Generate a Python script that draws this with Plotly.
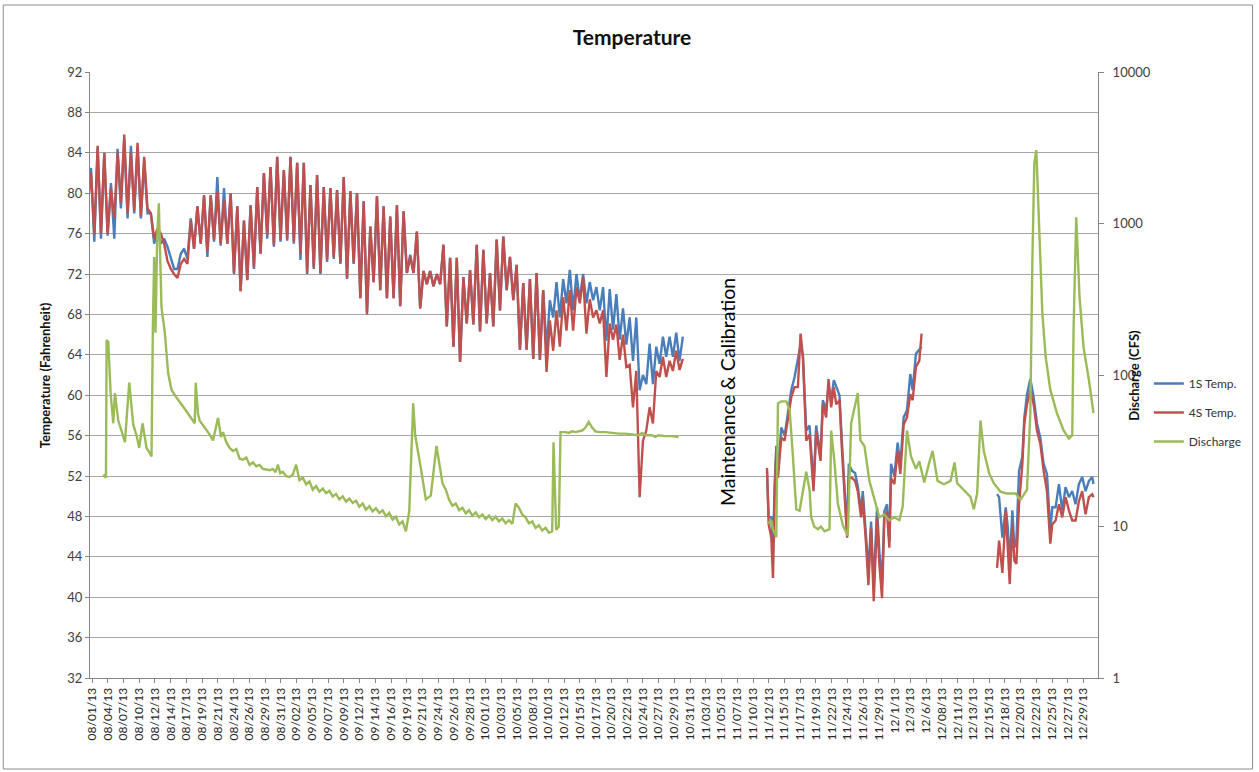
import plotly.graph_objects as go

# ---------------- DATA ----------------
# x-axis category labels (as printed in the original chart, evenly spaced)
tick_labels = ["08/01/13","08/04/13","08/07/13","08/10/13","08/12/13","08/14/13","08/17/13","08/19/13",
               "08/21/13","08/24/13","08/26/13","08/29/13","08/31/13","09/02/13","09/05/13","09/07/13",
               "09/09/13","09/12/13","09/14/13","09/16/13","09/19/13","09/21/13","09/24/13","09/26/13",
               "09/28/13","10/01/13","10/03/13","10/05/13","10/08/13","10/10/13","10/12/13","10/15/13",
               "10/17/13","10/20/13","10/22/13","10/24/13","10/27/13","10/29/13","10/31/13","11/03/13",
               "11/05/13","11/07/13","11/10/13","11/12/13","11/15/13","11/17/13","11/19/13","11/22/13",
               "11/24/13","11/26/13","11/29/13","12/1/13","12/3/13","12/6/13","12/08/13","12/11/13",
               "12/13/13","12/15/13","12/18/13","12/20/13","12/22/13","12/25/13","12/27/13","12/29/13"]

# Aug 1 - Oct 30: daily (morning, evening) readings, deg F
temp4s_aug_oct = [79,82, 76,84.7, 76,84, 76,80.5, 77.5,84, 79,85.8, 78,84, 78.3,85, 77.7,83.6, 78.5,78,
                  75.5,76.5, 76,75, 73.3,72.5, 72,71.6, 73,73.5, 73,77.3, 74.5,78.7, 75,79.8, 74.2,79.8, 75.4,80.1,
                  75,79.3, 75,80, 72.1,78.7, 70.3,77.3, 71.4,78.8, 72.7,80.6, 74,82, 75.9,82.6, 74.9,83.6, 75.4,82.3,
                  75.5,83.6, 75.2,83, 74,83, 72.1,80.8, 72.7,81.8, 72.1,80.6, 73.4,80.5, 73.7,80.3, 73.1,81.6, 71.6,80.2,
                  73.1,80, 69.6,79.2, 68,76.7, 71.2,79.7, 70.4,78.7, 69.6,77.7, 69.6,78.8, 68.8,78.2, 72.1,73.7, 72.1,76.2,
                  68.6,72.3, 71,72.3, 70.8,72, 71,74.9, 66.8,73.6, 64.8,73.6, 63.3,71.7, 67.1,72.4, 67,74.9, 66.3,74.4,
                  67.1,72.1, 66.8,75.4, 68.4,75.7, 70.4,73.7, 69.4,72.9, 64.5,71.1, 64.5,71.5, 63.6,72.1, 63.5,70.4, 62.3,67.4,
                  64.4,68.4, 64.8,69.7, 66.4,70.4, 66.4,70.7, 69.1,71.7, 66.1,69.5, 67.7,68.4, 67.1,68.4, 61.8,67.1, 65.5,67,
                  63.5,66, 62.8,63, 58.8,62.4, 49.9,55.5, 56.5,58.8, 57.2,62.4, 61.8,63.8, 61.8,63.4, 62.4,64.4, 62.5,63.6]

temp1s_aug_oct = [78.5,82.5, 75.2,84.5, 75.5,84, 75.8,81, 75.5,84.4, 78.5,85.3, 77.5,84.7, 78,84.6, 77.5,83.2, 78,78,
                  75,76.5, 75,75.5, 74.7,73.5, 72.5,72.5, 74,74.5, 73.5,77.5, 74.5,78.7, 75,79.8, 73.7,79.8, 75.2,81.6,
                  74.8,80.5, 75,80, 72,78.7, 70.3,77.3, 71.4,78.8, 72.5,80.6, 74,82, 75.5,82.6, 74.7,83.6, 75.2,82.3,
                  75.3,83.6, 75,83, 73.4,83, 72,80.8, 72.5,81.8, 72,80.6, 73.2,80.5, 73.5,80.3, 73,81.6, 71.5,80.2,
                  73,80, 69.6,79.2, 68.2,76.7, 71.2,79.7, 70.4,78.7, 69.6,77.7, 69.6,78.8, 68.8,78.2, 72.1,73.9, 72.1,76.2,
                  68.6,72.3, 71,72.3, 70.8,72, 71,74.9, 66.8,73.6, 64.8,73.6, 63.3,71.7, 67.1,72.4, 67,74.9, 66.3,74.4,
                  67.1,72.1, 66.8,75.4, 68.4,75.7, 70.4,73.7, 69.4,72.9, 64.5,71.1, 64.5,71.5, 63.6,72.1, 63.5,70.4, 64.5,69.4,
                  67.7,71.2, 67.7,71.5, 69.1,72.4, 68.4,72, 69.4,72, 69.1,71.2, 69.4,70.7, 68.4,70.7, 65.4,70.5, 66.5,70,
                  65.5,68.6, 65,67.7, 63.4,67.7, 60.5,62, 61.1,65.1, 61.1,64.8, 63.1,65.8, 63.8,65.8, 63.8,66.2, 63.4,65.8]

# Nov 11 - Dec 5 readings (days since 08/01)
nov_day = [102.4,102.65,103.05,103.3,103.55,103.8,104.05,104.55,105.05,105.55,106.05,106.55,107.05,107.45,107.8,
           108.3,108.8,109.4,109.8,110.45,110.8,111.3,111.65,112.05,112.45,112.8,113.3,113.7,114.05,114.45,114.7,
           115.2,115.65,116.05,116.55,116.8,117.3,117.65,118.05,118.45,118.95,119.3,119.7,120.05,120.45,120.8,
           121.05,121.55,122.05,122.45,122.95,123.45,123.95,124.3,124.8,125.3,125.65]
nov_4s = [52.8,47.2,45.9,41.9,49.9,54.5,51.8,55.8,55.5,57.8,59.8,60.8,60.8,66.1,63.8,
          55.5,56.1,50.5,56.5,53.5,59.1,57.8,61.6,58.8,60.8,59.1,59.5,54.2,49.9,45.9,51.8,
          51.8,51.5,50.5,47.9,49.9,45.2,41.2,46.9,39.6,47.9,43.2,39.9,47.9,48.5,44.9,
          51.8,51.2,54.5,52.2,57.1,57.8,60.1,59.5,62.8,63.4,66.1]
nov_1s = [52.5,48.0,47.9,44.5,51.2,55.0,52.5,56.8,56.0,58.3,60.5,61.8,63.8,65.0,64.0,
          56.5,57.0,51.0,57.0,54.0,59.5,58.5,61.0,59.5,61.5,60.9,60.0,55.0,50.5,46.5,53.2,
          52.5,52.3,51.0,48.5,50.5,46.0,42.5,47.5,41.0,48.9,44.5,41.5,48.5,49.2,45.5,
          53.2,52.0,55.3,53.0,57.8,58.5,62.1,60.5,64.1,64.5,64.8]

# Dec 16 - Dec 31 readings (days since 08/01)
dec_day = [137.0,137.3,137.8,138.3,138.6,138.9,139.3,139.6,139.9,140.3,140.8,141.1,141.5,142.0,142.5,143.0,
           143.5,144.0,144.5,145.0,145.3,145.8,146.3,146.8,147.3,147.8,148.3,148.8,149.3,149.8,150.3,150.8,151.3,151.5]
dec_4s = [42.9,45.6,42.4,48.6,44.9,41.3,47.2,43.6,43.3,49.2,53.2,57.2,59.1,60.5,59.1,56.5,
          55.2,52.5,50.5,45.3,47.2,47.6,49.2,47.9,49.9,48.6,47.6,47.6,49.5,50.5,48.2,49.9,50.2,49.9]
dec_1s = [50.2,49.9,45.9,48.9,47.0,43.3,48.6,44.9,45.5,52.5,53.9,57.8,60.1,61.6,59.8,57.2,
          55.8,53.2,52.2,46.6,48.9,48.9,51.2,48.6,50.9,49.9,50.5,49.2,51.2,51.9,50.5,51.5,51.9,51.2]

# Discharge (CFS), Aug - Oct
dis_day_a = [2.6,3.0,3.1,3.35,3.7,4.1,4.35,4.85,5.4,5.85,6.5,7.1,7.6,8.0,8.5,9.1,9.5,9.85,
             10.05,10.25,10.45,10.7,10.95,11.35,11.85,12.35,12.85,13.6,14.6,15.6,16.35,16.5,16.85,17.1,17.85,
             18.5,19.1,19.85,20.3,20.6,21.1,21.6,22.1,22.6,23.1,23.6,24.1,24.6,25.1,25.6,26.1,26.6,27.1,27.6,
             28.1,28.5,28.85,29.2,29.6,30.1,30.6,31.1,31.6,32.1,32.6,33.1,33.6,34.1,34.6,35.1,35.6,36.1,36.6,
             37.1,37.6,38.1,38.6,39.1,39.6,40.1,40.6,41.1,41.6,42.1,42.6,43.1,43.6,44.1,44.6,45.1,45.6,46.1,
             46.6,47.1,47.6,48.1,48.6,49.2,49.5,49.85,50.3,51.1,51.85,52.7,53.2,53.6,54.1,54.6,55.1,55.6,56.1,
             56.6,57.1,57.6,58.1,58.6,59.1,59.6,60.1,60.6,61.1,61.6,62.1,62.6,63.1,63.6,64.1,64.6,65.1,65.6,
             66.1,66.6,67.1,67.6,68.1,68.6,69.1,69.6,70.1,70.3,70.7,71.1,71.35,72.1,72.6,73.1,73.6,74.1,74.6,
             75.1,75.6,76.1,76.6,77.1,78.1,79.1,80.1,81.1,82.1,83.1,83.6,84.1,85.1,85.6,86.1,87.1,88.1,89.1]
dis_cfs_a = [22,21,170,165,76,48,76,50,42,36,89,47,40,33,48,33,31,29,
             200,600,190,800,1360,280,190,103,80,71,62,53,48,89,55,50,45,
             41,37,52,39,42,36,33,31.5,32.5,28,27.6,28.5,25.5,26.5,25,25.5,24,23.8,23.5,
             24,22.8,25.6,22.5,23,21.5,21.2,22,25.6,20.2,21,19,19.8,17.5,18.5,17,17.8,16.6,17.2,
             15.8,16.4,15.1,15.8,14.6,15.3,14.3,14.8,13.5,14.2,12.9,13.6,12.6,13.2,12.3,12.8,11.7,12.3,11.1,
             11.6,10.3,10.8,9.3,12.5,65,40,31.5,25,15.1,16,34,25,19.3,17.5,15,13.7,14.2,12.8,
             13.3,12.2,12.8,11.8,12.4,11.5,12,11.2,11.8,11,11.6,10.8,11.3,10.5,11,10.4,14.2,13.3,12,
             11.5,10.5,10.8,9.8,10.2,9.4,9.8,9.1,9.3,36,9.5,10,42,42,41.5,42.5,42,42.5,43,
             45,49,45,42.5,42,42,41.5,41,41,40.5,40,41.5,40,40,39,40,39.5,39.5,39]

# Discharge (CFS), Nov - Dec
dis_day_b = [102.55,103.05,103.3,103.8,104.05,104.55,105.3,105.8,106.3,106.8,107.3,107.8,108.3,108.8,109.05,
             109.5,110.05,110.5,111.05,111.8,112.05,112.55,113.05,113.8,114.55,115.05,115.55,116.05,116.45,117.05,
             117.8,118.55,119.3,120.05,120.8,121.55,122.3,122.8,123.45,124.05,124.8,125.3,126.05,126.8,127.3,128.05,
             129.0,130.0,130.6,131.0,132.0,133.0,133.5,134.0,134.5,135.0,135.8,136.5,137.5,138.5,139.8,140.5,141.5,
             142.0,142.3,142.6,142.9,143.3,143.8,144.3,145.0,146.0,147.0,147.8,148.3,148.5,148.9,149.4,150.0,150.8,151.5]
dis_cfs_b = [10.5,11,9.6,8.5,65,67,67,59,29,13,12.7,17.5,23,17.5,11.5,
             10,9.6,10,9.3,9.6,43,26.5,14.2,10.2,8.7,48,59,76,37,34,
             20,15,11.5,12,11,11.5,11,13.5,43,29,24,27,19.5,26.5,31.5,20,
             19,20,26.5,19.3,17.5,15.7,13,16.5,50,31.5,22.5,19.3,17,16.5,16.5,15,17.5,
             56,550,2500,3050,910,260,132,80,56,43,38,40,200,1100,325,152,93,56]

# ---------------- BUILD SERIES ----------------
n_days_a = len(temp4s_aug_oct) // 2
day_a = []
for d in range(n_days_a):
    day_a += [d + 0.25, d + 0.75]

x_temp = day_a + [None] + nov_day + [None] + dec_day
y_4s = temp4s_aug_oct + [None] + nov_4s + [None] + dec_4s
y_1s = temp1s_aug_oct + [None] + nov_1s + [None] + dec_1s
x_dis = dis_day_a + [None] + dis_day_b
y_dis = dis_cfs_a + [None] + dis_cfs_b

# evenly spaced category labels (Excel-style category axis)
first_tick, last_tick = 0.9, 150.0
tick_step = (last_tick - first_tick) / (len(tick_labels) - 1)
tick_vals = [first_tick + i * tick_step for i in range(len(tick_labels))]

FONT = "Lato, 'Open Sans', sans-serif"
PL, PW = 90, 1011   # plot-area left and width in px (for paper-relative placement)

fig = go.Figure()
fig.add_trace(go.Scatter(x=x_temp, y=y_1s, name="1S Temp.", mode="lines",
                         line=dict(color="#4A7EBB", width=2.4), connectgaps=False, legendgroup="a"))
fig.add_trace(go.Scatter(x=x_temp, y=y_4s, name="4S Temp.", mode="lines",
                         line=dict(color="#C0504D", width=2.4), connectgaps=False, legendgroup="b"))
fig.add_trace(go.Scatter(x=x_dis, y=y_dis, name="Discharge", mode="lines", yaxis="y2",
                         line=dict(color="#9BBB59", width=2.4), connectgaps=False, legendgroup="c"))

fig.update_layout(
    width=1259, height=772,
    margin=dict(l=PL, r=1259 - PL - PW, t=72, b=94),
    paper_bgcolor="white", plot_bgcolor="white",
    font=dict(family=FONT, color="#333333"),
    title=dict(text="<b>Temperature</b>", x=0.502, xref="container", xanchor="center",
               y=1 - 38 / 772, yref="container", yanchor="middle",
               font=dict(family=FONT, size=21, color="#111111")),
    xaxis=dict(range=[0.6, 0.6 + PW / 6.67], tickmode="array", tickvals=tick_vals, ticktext=tick_labels,
               tickangle=-90, tickfont=dict(family=FONT, size=12, color="#262626"),
               showgrid=False, zeroline=False, showline=True, linecolor="#868686", linewidth=1,
               ticks="outside", ticklen=4, tickcolor="#868686"),
    yaxis=dict(range=[32, 92], tick0=32, dtick=4, showgrid=True, gridcolor="#A6A6A6", gridwidth=1,
               zeroline=False, showline=True, linecolor="#868686", ticks="outside", ticklen=4,
               tickcolor="#868686", tickfont=dict(family=FONT, size=13, color="#404040")),
    yaxis2=dict(type="log", range=[0, 4], overlaying="y", side="right",
                tickmode="array", tickvals=[1, 10, 100, 1000, 10000],
                ticktext=["1", "10", "100", "1000", "10000"], showgrid=False, zeroline=False,
                showline=True, linecolor="#868686", ticks="outside", ticklen=5, tickcolor="#868686",
                ticklabelstandoff=6,
                tickfont=dict(family=FONT, size=13, color="#404040")),
    legend=dict(x=(1152 - PL) / PW, y=0.51, xanchor="left", yanchor="top", bgcolor="rgba(0,0,0,0)",
                font=dict(family=FONT, size=12, color="#333333"), tracegroupgap=10,
                traceorder="grouped"),
    showlegend=True,
)

fig.add_annotation(text="<b>Temperature (Fahrenheit)</b>", xref="paper", yref="paper",
                   x=(35 - PL) / PW, y=0.5, textangle=-90, showarrow=False,
                   font=dict(family=FONT, size=13, color="#111111"))
fig.add_annotation(text="<b>Discharge (CFS)</b>", xref="paper", yref="paper",
                   x=(1147 - PL) / PW, y=0.5, textangle=-90, showarrow=False,
                   font=dict(family=FONT, size=13, color="#111111"))
fig.add_annotation(text="Maintenance & Calibration", xref="paper", yref="paper",
                   x=(730 - PL) / PW, y=0.472, textangle=-90, showarrow=False,
                   font=dict(family=FONT, size=19.5, color="#000000"))

# outer chart-area frame
fig.add_shape(type="rect", xref="paper", yref="paper",
              x0=(3 - PL) / PW, x1=(1256 - PL) / PW,
              y0=(678 - 769) / 606, y1=(678 - 5) / 606,
              line=dict(color="#8C8C8C", width=1), fillcolor="rgba(0,0,0,0)", layer="below")

fig.write_html("out.html", config={"displayModeBar": False},
               post_script="document.body.style.margin='0';document.body.style.overflow='hidden';")
